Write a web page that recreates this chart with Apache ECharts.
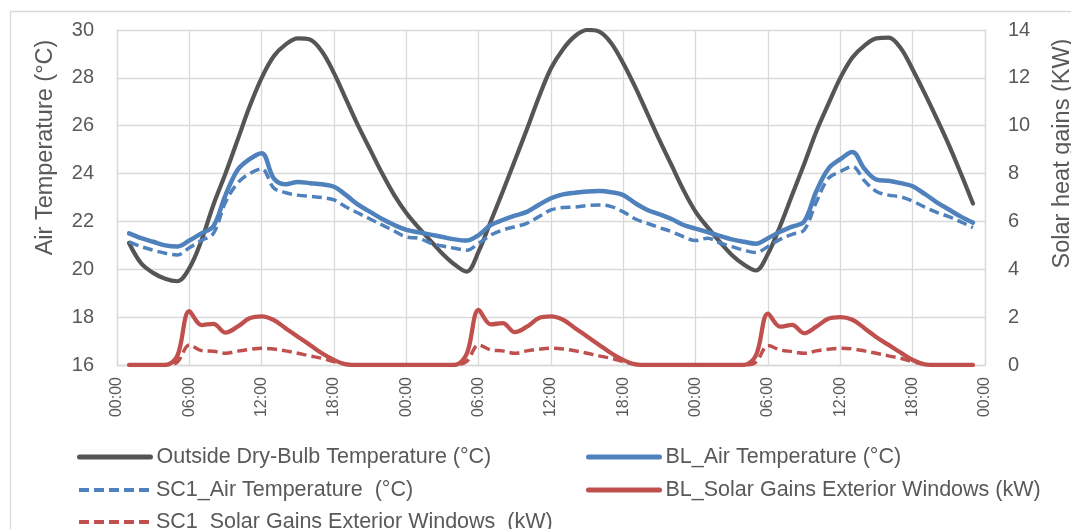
<!DOCTYPE html>
<html>
<head>
<meta charset="utf-8">
<script src="https://cdn.jsdelivr.net/npm/echarts@6/dist/echarts.min.js"></script>
<style>
  html, body { margin: 0; padding: 0; background: #fff; }
  #chart { width: 1071px; height: 529px; }
</style>
</head>
<body>
<div id="chart"></div>
<script>
// hourly values, first point at 01:00 of day 1, last at 23:00 of day 3
const firstHour = 1;

const outsideTemp = [
  21.1, 20.25, 19.85, 19.6, 19.5, 20.05, 21.2, 22.7, 24.0, 25.4, 26.8, 28.0,
  28.9, 29.4, 29.65, 29.6, 29.1, 28.2, 27.1, 26.0, 25.0, 24.0, 23.1, 22.35,
  21.75, 21.2, 20.65, 20.2, 19.9, 20.75, 22.0, 23.25, 24.55, 25.85, 27.2, 28.4,
  29.2, 29.75, 30.0, 29.93, 29.45, 28.6, 27.6, 26.5, 25.4, 24.35, 23.3, 22.4,
  21.75, 21.15, 20.6, 20.2, 19.95, 20.65, 21.8, 23.1, 24.4, 25.75, 26.9, 28.0,
  28.85, 29.35, 29.65, 29.68, 29.25, 28.35, 27.35, 26.3, 25.2, 24.0, 22.75
];
const blAirTemp = [
  21.5, 21.3, 21.15, 21.0, 20.95, 21.2, 21.5, 21.8, 23.1, 24.15, 24.6, 24.85,
  23.8, 23.55, 23.65, 23.6, 23.55, 23.45, 23.1, 22.7, 22.4, 22.1, 21.85, 21.65,
  21.55, 21.45, 21.35, 21.25, 21.2, 21.43, 21.85, 22.06, 22.24, 22.4, 22.7, 22.97,
  23.13, 23.2, 23.25, 23.27, 23.22, 23.1, 22.76, 22.48, 22.3, 22.1, 21.85, 21.7,
  21.55, 21.4, 21.25, 21.15, 21.07, 21.3, 21.57, 21.78, 22.0, 23.25, 24.2, 24.6,
  24.9, 24.2, 23.75, 23.7, 23.6, 23.47, 23.15, 22.8, 22.5, 22.2, 21.95
];
const sc1AirTemp = [
  21.15, 20.95, 20.8, 20.67, 20.6, 20.9, 21.2, 21.5, 22.8, 23.6, 24.0, 24.2,
  23.4, 23.2, 23.1, 23.05, 23.0, 22.9, 22.6, 22.35, 22.1, 21.85, 21.6, 21.35,
  21.3, 21.1, 20.97, 20.88, 20.8, 21.08, 21.43, 21.64, 21.78, 21.92, 22.2, 22.48,
  22.58, 22.6, 22.66, 22.69, 22.62, 22.4, 22.1, 21.92, 21.74, 21.57, 21.36, 21.2,
  21.3, 21.1, 20.95, 20.8, 20.7, 20.95, 21.25, 21.46, 21.64, 22.8, 23.8, 24.08,
  24.3, 23.7, 23.25, 23.1, 23.03, 22.85, 22.6, 22.38, 22.2, 21.98, 21.74
];
const blSolarGains = [
  0, 0, 0, 0, 0.38, 2.25, 1.67, 1.72, 1.35, 1.6, 1.95, 2.03,
  1.88, 1.53, 1.18, 0.84, 0.49, 0.21, 0.03, 0, 0, 0, 0, 0,
  0, 0, 0, 0, 0.45, 2.3, 1.7, 1.75, 1.37, 1.6, 1.96, 2.03,
  1.89, 1.54, 1.19, 0.84, 0.49, 0.21, 0.03, 0, 0, 0, 0, 0,
  0, 0, 0, 0, 0.4, 2.15, 1.6, 1.68, 1.33, 1.6, 1.93, 2.0,
  1.89, 1.54, 1.16, 0.84, 0.52, 0.21, 0.03, 0, 0, 0, 0
];
const sc1SolarGains = [
  0, 0, 0, 0, 0.12, 0.84, 0.6, 0.57, 0.49, 0.58, 0.65, 0.7,
  0.67, 0.59, 0.49, 0.38, 0.28, 0.14, 0.03, 0, 0, 0, 0, 0,
  0, 0, 0, 0, 0.15, 0.84, 0.63, 0.59, 0.49, 0.59, 0.66, 0.7,
  0.67, 0.59, 0.49, 0.38, 0.28, 0.14, 0.03, 0, 0, 0, 0, 0,
  0, 0, 0, 0, 0.12, 0.81, 0.63, 0.56, 0.49, 0.59, 0.66, 0.7,
  0.67, 0.59, 0.49, 0.38, 0.28, 0.14, 0.03, 0, 0, 0, 0
];

const names = [
  "Outside Dry-Bulb Temperature (°C)",
  "BL_Air Temperature (°C)",
  "SC1_Air Temperature  (°C)",
  "BL_Solar Gains Exterior Windows (kW)",
  "SC1_Solar Gains Exterior Windows  (kW)"
];

const textColor = "#595959";
const gridColor = "#d9d9d9";
const font = "'Liberation Sans', Arial, sans-serif";

function withHours(values) {
  return values.map((v, i) => [firstHour + i, v]);
}

function lineSeries(name, values, color, width, dashed, yAxisIndex) {
  return {
    name: name,
    type: "line",
    yAxisIndex: yAxisIndex,
    data: withHours(values),
    showSymbol: false,
    symbol: "none",
    smooth: 0.35,
    lineStyle: {
      color: color,
      width: width,
      type: dashed ? [10, 5] : "solid",
      cap: dashed ? "butt" : "round"
    },
    itemStyle: { color: color }
  };
}

// one legend per entry so rows/columns sit like the excel layout
function legendItem(name, left, top, lineWidth) {
  return {
    data: [name],
    left: left,
    top: top,
    padding: 0,
    itemWidth: 71,
    itemHeight: 14,
    itemStyle: { opacity: 0 },
    lineStyle: { width: lineWidth },
    selectedMode: false,
    textStyle: { color: textColor, fontSize: 21.5, lineHeight: 24, fontFamily: font, padding: [0, 0, 0, 1] }
  };
}

const chart = echarts.init(document.getElementById("chart"), null, { renderer: "canvas" });

chart.setOption({
  animation: false,
  backgroundColor: "#fff",
  graphic: [
    {
      type: "rect",
      shape: { x: 10.5, y: 11.5, width: 1100, height: 600 },
      style: { fill: "none", stroke: gridColor, lineWidth: 1.3 },
      silent: true,
      z: -1
    }
  ],
  grid: {
    left: 117,
    right: 86,
    top: 30,
    bottom: 164,
    outerBoundsMode: "none",
    containLabel: false
  },
  legend: [
    legendItem(names[0], 77, 445, 5),
    legendItem(names[2], 77, 478, 4),
    legendItem(names[4], 77, 510, 4),
    legendItem(names[1], 586, 445, 5),
    legendItem(names[3], 586, 478, 5)
  ],
  xAxis: {
    type: "value",
    min: 0,
    max: 72,
    interval: 6,
    axisLine: { show: true, lineStyle: { color: gridColor, width: 1.3 } },
    axisTick: { show: false },
    splitLine: { show: true, lineStyle: { color: gridColor, width: 1.3 } },
    axisLabel: {
      rotate: 90,
      margin: 12,
      color: textColor,
      fontSize: 16,
      fontFamily: font,
      formatter: v => String(v % 24).padStart(2, "0") + ":00"
    }
  },
  yAxis: [
    {
      type: "value",
      min: 16,
      max: 30,
      interval: 2,
      name: "Air Temperature (°C)",
      nameLocation: "middle",
      nameRotate: 90,
      nameGap: 59,
      nameTextStyle: { color: textColor, fontSize: 23.5, fontFamily: font, padding: [0, 0, 0, 100] },
      axisLine: { show: true, lineStyle: { color: gridColor, width: 1.3 } },
      axisTick: { show: false },
      splitLine: { lineStyle: { color: gridColor, width: 1.3 } },
      axisLabel: { color: textColor, fontSize: 20, margin: 23, fontFamily: font }
    },
    {
      type: "value",
      min: 0,
      max: 14,
      interval: 2,
      position: "right",
      name: "Solar heat gains (KW)",
      nameLocation: "middle",
      nameRotate: 90,
      nameGap: 66,
      nameTextStyle: { color: textColor, fontSize: 23.5, fontFamily: font, padding: [0, 0, 0, 88] },
      axisLine: { show: true, lineStyle: { color: gridColor, width: 1.3 } },
      axisTick: { show: false },
      splitLine: { show: false },
      axisLabel: { color: textColor, fontSize: 20, margin: 23, fontFamily: font }
    }
  ],
  series: [
    lineSeries(names[0], outsideTemp, "#555555", 4.2, false, 0),
    lineSeries(names[1], blAirTemp, "#4f81bd", 4.5, false, 0),
    lineSeries(names[2], sc1AirTemp, "#4f81bd", 3.5, true, 0),
    lineSeries(names[3], blSolarGains, "#c0504d", 4.3, false, 1),
    lineSeries(names[4], sc1SolarGains, "#c0504d", 3.5, true, 1)
  ]
});
</script>
</body>
</html>
